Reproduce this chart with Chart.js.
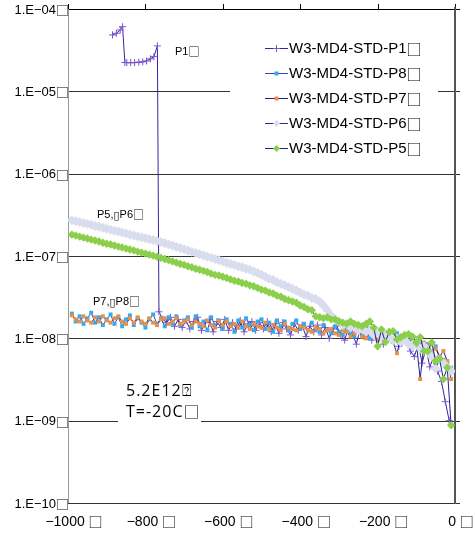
<!DOCTYPE html>
<html>
<head>
<meta charset="utf-8">
<script src="https://cdn.jsdelivr.net/npm/chart.js@4"></script>
<style>
  html, body { margin: 0; padding: 0; background: #fff; }
</style>
</head>
<body>
<canvas id="chart" width="475" height="533"></canvas>
<script>
// values of the series are in units of 1e-8
const UNIT = 1e-8;

const xs = [-990,-980,-970,-960,-950,-940,-930,-920,-910,-900,-890,-880,-870,-860,-850,-840,-830,-820,-810,-800,
  -790,-780,-770,-760,-750,-740,-730,-720,-710,-700,-690,-680,-670,-660,-650,-640,-630,-620,-610,-600,
  -590,-580,-570,-560,-550,-540,-530,-520,-510,-500,-490,-480,-470,-460,-450,-440,-430,-420,-410,-400,
  -390,-380,-370,-360,-350,-340,-330,-320,-310,-300,-290,-280,-270,-260,-250,-240,-230,-220,-210,-200,
  -190,-180,-170,-160,-150,-140,-130,-120,-110,-100,-90,-80,-70,-60,-50,-40,-30,-20,-10];

const p5 = [18.2,17.7,17.2,16.7,16.3,15.8,15.4,15.0,14.5,14.1,13.8,13.4,13.0,12.7,12.3,12.0,11.7,11.3,11.0,10.7,
  10.4,10.1,9.8,9.5,9.2,8.9,8.6,8.3,8.0,7.8,7.5,7.3,7.0,6.8,6.6,6.4,6.1,5.9,5.8,5.6,
  5.4,5.2,5.0,4.9,4.7,4.6,4.4,4.3,4.1,3.9,3.8,3.6,3.5,3.3,3.2,3.0,2.9,2.8,2.7,2.5,
  2.4,2.25,2.2,1.85,1.8,1.75,1.8,1.7,1.7,1.6,1.55,1.5,1.6,1.5,1.45,1.4,1.5,1.6,1.35,0.8,
  1.28,0.9,1.2,1.22,0.97,1.03,1.1,1.12,1.05,0.89,1.03,0.7,0.7,0.89,0.53,0.56,0.32,0.44,0.088];

const p6 = [27.2,26.5,25.8,25.2,24.5,23.9,23.2,22.6,22.0,21.4,20.9,20.3,19.8,19.3,18.8,18.3,17.8,17.3,16.9,16.4,
  16.0,15.6,15.2,14.8,14.3,13.8,13.4,12.9,12.5,12.1,11.7,11.3,10.9,10.5,10.2,9.8,9.5,9.2,8.9,8.6,
  8.3,8.0,7.8,7.5,7.3,7.0,6.8,6.5,6.2,5.9,5.6,5.3,5.1,4.8,4.6,4.4,4.2,4.0,3.8,3.6,
  3.4,3.3,3.1,3.0,2.8,2.5,2.2,1.9,1.7,1.6,1.45,1.5,1.35,1.4,1.25,1.3,1.2,1.25,1.1,1.15,
  1.05,1.1,1.0,0.95,1.0,0.9,0.95,0.85,0.8,0.9,0.75,0.8,0.7,0.6,0.43,0.55,0.5,0.45,0.4];

const p7 = [1.9,1.7,1.6,1.85,1.65,1.55,1.8,1.6,1.85,1.65,1.55,1.75,1.85,1.6,1.5,1.75,1.55,1.8,1.6,1.5,
  1.75,1.55,1.45,1.7,1.75,1.5,1.6,1.75,1.5,1.6,1.7,1.45,1.6,1.5,1.4,1.65,1.45,1.35,1.6,1.45,
  1.6,1.4,1.5,1.35,1.6,1.4,1.3,1.5,1.4,1.35,1.55,1.3,1.45,1.35,1.25,1.5,1.35,1.3,1.25,1.4,
  1.35,1.25,1.2,1.35,1.3,1.15,1.25,1.3,1.15,1.1,1.25,1.2,1.05,1.15,1.2,1.05,1.0,1.15,1.1,0.95,
  1.1,0.95,1.05,0.9,0.66,1.0,0.95,0.85,1.0,0.9,0.32,0.89,0.8,0.7,0.75,0.6,0.7,0.53,0.32];

const p8 = [2.0,1.6,1.85,1.5,1.75,2.05,1.55,1.8,1.45,1.7,1.95,1.5,1.8,1.4,1.7,1.9,1.45,1.75,1.55,1.35,
  1.7,1.95,1.5,1.75,1.4,1.8,1.5,1.85,1.45,1.65,1.8,1.35,1.85,1.4,1.6,1.25,1.8,1.45,1.65,1.3,
  1.7,1.5,1.2,1.65,1.35,1.75,1.45,1.25,1.6,1.7,1.3,1.55,1.2,1.65,1.4,1.6,1.25,1.5,1.65,1.3,
  1.5,1.25,1.55,1.3,1.2,1.45,1.25,1.15,1.4,1.2,1.1,1.35,1.15,1.05,1.3,1.1,1.2,1.0,1.15,1.05,
  1.2,0.9,1.1,1.0,1.15,0.85,1.05,0.95,0.8,1.0,0.9,0.75,0.85,0.7,0.8,0.6,0.55,0.5,0.44];

const p1X = [-885,-875,-865,-859,-853,-848,-838,-828,-817,-807,-797,-787,-778,-769,
  -765,-755,-745,-735,-725,-715,-705,-695,-685,-675,-665,-655,-645,-635,-625,-615,-605,-595,-585,-575,
  -565,-555,-545,-535,-525,-515,-505,-495,-485,-475,-465,-455,-445,-435,-425,-415,-405,-395,-385,-375,
  -365,-355,-345,-335,-325,-315,-305,-295,-285,-275,-265,-255,-245,-235,-225,-215,-205,-195,-185,-175,
  -165,-155,-145,-135,-125,-115,-105,-95,-85,-75,-65,-55,-45,-35,-25,-15];

const p1 = [4840,5070,5560,6100,2240,2230,2230,2230,2260,2280,2340,2480,2640,3560,
  2.1,1.7,1.55,1.8,1.4,1.7,1.35,1.65,1.3,1.6,1.8,1.25,1.55,1.7,1.2,1.6,1.35,1.7,1.25,1.55,
  1.3,1.65,1.2,1.5,1.6,1.25,1.55,1.3,1.6,1.2,1.5,1.15,1.55,1.3,1.1,1.5,1.25,1.45,1.05,1.4,
  1.2,1.45,1.1,1.35,1.0,1.3,1.4,1.1,0.95,1.35,1.15,0.85,1.3,1.05,1.35,0.95,1.2,1.2,0.85,1.1,
  0.95,1.05,0.8,1.0,0.9,0.7,0.6,0.85,0.5,0.75,0.45,0.6,0.4,0.3,0.17,0.1];

const seriesNames = ['W3-MD4-STD-P1□', 'W3-MD4-STD-P8□', 'W3-MD4-STD-P7□', 'W3-MD4-STD-P6□', 'W3-MD4-STD-P5□'];

const xTicks = [-1000, -800, -600, -400, -200, 0];
const xTickLabels = ['−1000 □', '−800 □', '−600 □', '−400 □', '−200 □', '0 □'];
const yTicks = [1e-4, 1e-5, 1e-6, 1e-7, 1e-8, 1e-9, 1e-10];
const yTickLabels = ['1.E−04□', '1.E−05□', '1.E−06□', '1.E−07□', '1.E−08□', '1.E−09□', '1.E−10□'];

const notes = [
  { text: 'P1□', x: 175, y: 52 },
  { text: 'P5,▯P6□', x: 97, y: 215 },
  { text: 'P7,▯P8□', x: 93, y: 302 }
];
const boxLines = ['5.2E12⍰', 'T=-20C□'];

// legend order; the last one is drawn on top
const series = [
  { x: p1X, y: p1, line: '#3a22a6', mark: '#7d55cc', shape: 'cross', r: 3.5 },
  { x: xs, y: p8, line: '#2f49c8', mark: '#33aaee', shape: 'rect', r: 2.8 },
  { x: xs, y: p7, line: '#20208f', mark: '#e8904a', shape: 'rect', r: 2.8 },
  { x: xs, y: p6, line: '#2a2a99', mark: '#d9ddee', shape: 'rectRot', r: 5 },
  { x: xs, y: p5, line: '#20208f', mark: '#8ccf4a', shape: 'rectRot', r: 4.2 }
];

const datasets = series.map((s, i) => ({
  label: seriesNames[i],
  data: s.x.map((x, k) => ({ x: x, y: s.y[k] * UNIT })),
  showLine: true,
  borderColor: s.line,
  borderWidth: 1,
  pointStyle: s.shape,
  pointRadius: s.r,
  pointBackgroundColor: s.mark,
  pointBorderColor: s.mark,
  pointBorderWidth: s.shape === 'cross' ? 1 : 0
})).reverse();

const FONT = '"Liberation Sans", sans-serif';
const BOX_FONT = '"Noto Sans CJK JP", "DejaVu Sans", sans-serif';

// draws text, the box glyphs in a wider font like the original tofu boxes
function drawText(ctx, text, x, y, align, size, family) {
  const parts = text.split(/([□▯])/).filter(p => p);
  const fontOf = p => size + 'px ' + (p === '□' || p === '▯' ? BOX_FONT : family);
  let total = 0;
  parts.forEach(p => { ctx.font = fontOf(p); total += ctx.measureText(p).width; });
  let cx = align === 'right' ? x - total : align === 'center' ? x - total / 2 : x;
  ctx.textAlign = 'left';
  parts.forEach(p => { ctx.font = fontOf(p); ctx.fillText(p, cx, y); cx += ctx.measureText(p).width; });
}

function drawMarker(ctx, shape, x, y, r, color) {
  ctx.beginPath();
  if (shape === 'cross') {
    ctx.moveTo(x - r, y); ctx.lineTo(x + r, y);
    ctx.moveTo(x, y - r); ctx.lineTo(x, y + r);
    ctx.strokeStyle = color; ctx.lineWidth = 1; ctx.stroke();
    return;
  }
  if (shape === 'rect') {
    const h = r * Math.SQRT1_2;
    ctx.rect(x - h, y - h, 2 * h, 2 * h);
  } else {
    ctx.moveTo(x - r, y); ctx.lineTo(x, y - r); ctx.lineTo(x + r, y); ctx.lineTo(x, y + r);
    ctx.closePath();
  }
  ctx.fillStyle = color; ctx.fill();
}

const frame = {
  id: 'frame',
  beforeDatasetsDraw(chart) {
    const { ctx, chartArea: a, scales: { x, y } } = chart;
    ctx.save();
    ctx.lineWidth = 1;
    yTicks.forEach((v, i) => {
      const py = Math.round(y.getPixelForValue(v)) + 0.5;
      ctx.strokeStyle = i === 0 ? '#000' : '#333';
      ctx.beginPath(); ctx.moveTo(a.left, py); ctx.lineTo(a.right + 5, py); ctx.stroke();
    });
    ctx.strokeStyle = '#000';
    xTicks.forEach(v => {
      const px = Math.round(x.getPixelForValue(v)) + 0.5;
      ctx.beginPath(); ctx.moveTo(px, a.top); ctx.lineTo(px, a.top - 5); ctx.stroke();
    });
    ctx.strokeStyle = '#999';
    ctx.beginPath(); ctx.moveTo(a.left + 0.5, a.top); ctx.lineTo(a.left + 0.5, a.bottom); ctx.stroke();
    ctx.strokeStyle = '#555';
    ctx.lineWidth = 2;
    ctx.beginPath(); ctx.moveTo(a.right, a.top - 2); ctx.lineTo(a.right, a.bottom + 1); ctx.stroke();
    ctx.restore();
  },
  afterDraw(chart) {
    const { ctx, chartArea: a, scales: { x, y } } = chart;
    ctx.save();
    ctx.textBaseline = 'middle';

    // legend
    ctx.fillStyle = '#fff';
    ctx.fillRect(230, 26, 208, 136);
    series.forEach((s, i) => {
      const ry = 48 + i * 25;
      ctx.strokeStyle = s.line; ctx.lineWidth = 1;
      ctx.beginPath(); ctx.moveTo(265, ry + 0.5); ctx.lineTo(288, ry + 0.5); ctx.stroke();
      drawMarker(ctx, s.shape, 276.5, ry + 0.5, Math.min(s.r, 3.5), s.mark);
      ctx.fillStyle = '#000';
      drawText(ctx, seriesNames[i], 289, ry + 1, 'left', 15, FONT);
    });

    // small notes
    ctx.fillStyle = '#000';
    notes.forEach(n => drawText(ctx, n.text, n.x, n.y, 'left', 11, FONT));

    // text box
    ctx.fillStyle = '#fff';
    ctx.fillRect(118, 373, 83, 54);
    ctx.fillStyle = '#000';
    ctx.letterSpacing = '1px';
    boxLines.forEach((t, i) => drawText(ctx, t, 126, 391 + i * 21, 'left', 16, '"Open Sans", sans-serif'));
    ctx.letterSpacing = '0px';

    // axis labels
    yTicks.forEach((v, i) => drawText(ctx, yTickLabels[i], a.left + 1, y.getPixelForValue(v) + 1, 'right', 13, FONT));
    xTicks.forEach((v, i) => drawText(ctx, xTickLabels[i], x.getPixelForValue(v) + 6, 522, 'center', 14, FONT));
    ctx.restore();
  }
};

new Chart(document.getElementById('chart').getContext('2d'), {
  type: 'scatter',
  data: { datasets: datasets },
  options: {
    responsive: false,
    animation: false,
    devicePixelRatio: 1,
    layout: { padding: { left: 68, right: 20, top: 9, bottom: 30 } },
    plugins: { legend: { display: false }, tooltip: { enabled: false } },
    elements: { line: { tension: 0 } },
    scales: {
      x: { type: 'linear', min: -1000, max: 0, display: false },
      y: { type: 'logarithmic', min: 1e-10, max: 1e-4, display: false }
    }
  },
  plugins: [frame]
});
</script>
</body>
</html>
